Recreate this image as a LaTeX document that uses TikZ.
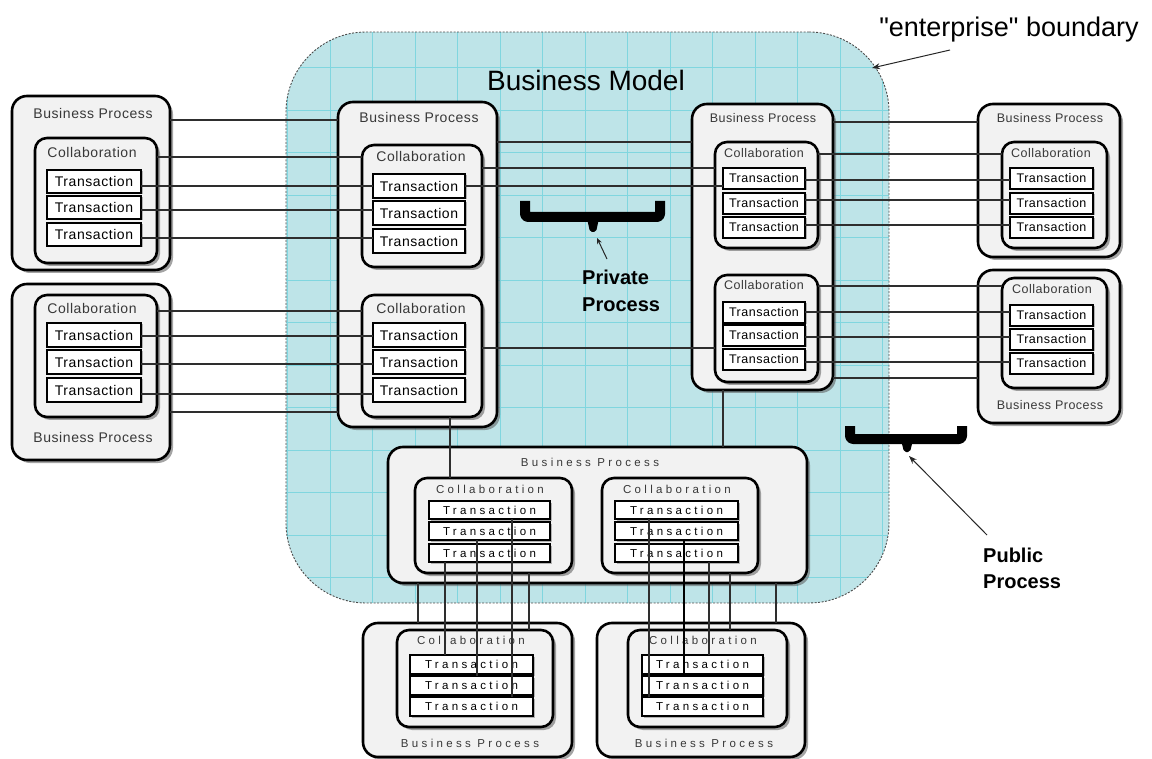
\documentclass[tikz,border=0pt]{standalone}
\usepackage{fontspec}
\setmainfont{Liberation Sans}
\newfontfamily\boxfont[LetterSpace=4]{Liberation Sans}
\newfontfamily\trackfont[LetterSpace=29]{Liberation Sans}
\newfontfamily\entfont[Ligatures=TeXOff]{Liberation Sans}
\usetikzlibrary{shadows,arrows.meta}
\definecolor{modelfill}{RGB}{190,228,232}
\definecolor{gridcyan}{RGB}{128,214,223}
\definecolor{boxfill}{RGB}{242,242,242}
\newcommand{\txtA}{\boxfont\fontsize{14}{16}\selectfont}
\newcommand{\txtB}{\boxfont\fontsize{12.5}{14}\selectfont}
\newcommand{\txtC}{\trackfont\fontsize{11.5}{13}\selectfont}

\begin{document}
\begin{tikzpicture}[x=1pt,y=-1pt,
  framebox/.style={draw=black, line width=2.6pt, fill=boxfill, inner sep=0pt, outer sep=0pt,
    anchor=north west, drop shadow={shadow xshift=3pt, shadow yshift=-3pt, fill=black!65, opacity=0.55}},
  bpbox/.style={framebox, rounded corners=15pt},
  colbox/.style={framebox, rounded corners=12pt},
  trbox/.style={draw=black, line width=1.1pt, fill=white, inner sep=0pt, outer sep=0pt,
    anchor=north west, drop shadow={shadow xshift=1.5pt, shadow yshift=-1.5pt, fill=black!55, opacity=0.5}},
  lbl/.style={inner sep=0pt, text=black!78},
  wire/.style={draw=black!82, line width=1.1pt},
  bracepath/.style={line width=10pt, rounded corners=3pt, line join=round},
  pointer/.style={draw=black!85, line width=1pt, -{Stealth[length=8pt,width=6pt]}},
  heading/.style={inner sep=0pt, anchor=base, font=\fontsize{28}{32}\selectfont},
  note/.style={inner sep=0pt, anchor=base west, font=\bfseries\fontsize{20}{24}\selectfont}
]
\useasboundingbox (0,0) rectangle (1152,759);

% ---------- business model region with grid ----------
\begin{scope}
  \clip[rounded corners=80pt] (286,32) rectangle (889,603);
  \fill[modelfill] (286,32) rectangle (889,603);
  \foreach \k in {0,...,14} \draw[gridcyan, line width=0.8pt] (287.5+42.5*\k,32) -- (287.5+42.5*\k,603);
  \foreach \k in {0,...,13} \draw[gridcyan, line width=0.8pt] (286,67.5+42.5*\k) -- (889,67.5+42.5*\k);
\end{scope}
\node[draw=black!70, dash pattern=on 2pt off 1.5pt, line width=0.9pt, rounded corners=80pt,
  minimum width=603pt, minimum height=571pt, anchor=north west, inner sep=0pt, outer sep=0pt] (model) at (286,32) {};

\node[heading] (title) at (586,91) {Business Model};
\node[heading, font=\entfont\fontsize{27}{31}\selectfont] (ent) at (1009,37) {"enterprise" boundary};
\coordinate (entTail) at (950,50);
\coordinate (entTip) at (872,68);
\draw[pointer] (entTail) -- (entTip);

% ---------- left column ----------
\node[bpbox, minimum width=158pt, minimum height=174pt] (LBP1) at (12,96) {};
\node[lbl, font=\txtA] (LBP1t) at (93,113) {Business Process};
\node[colbox, minimum width=122pt, minimum height=125pt] (LC1) at (35,138) {};
\node[lbl, font=\txtA] (LC1t) at (92,152) {Collaboration};
\foreach \n/\y in {a/170,b/196,c/223}
  \node[trbox, minimum width=94pt, minimum height=23pt, font=\txtA] (LT1\n) at (47,\y) {Transaction};

\node[bpbox, minimum width=158pt, minimum height=176pt] (LBP2) at (12,284) {};
\node[lbl, font=\txtA] (LBP2t) at (93,437) {Business Process};
\node[colbox, minimum width=122pt, minimum height=122pt] (LC2) at (35,295) {};
\node[lbl, font=\txtA] (LC2t) at (92,308) {Collaboration};
\foreach \n/\y in {a/323,b/350,c/378}
  \node[trbox, minimum width=94pt, minimum height=24pt, font=\txtA] (LT2\n) at (47,\y) {Transaction};

% ---------- centre process ----------
\node[bpbox, minimum width=159pt, minimum height=325pt] (CBP) at (338,102) {};
\node[lbl, font=\txtA] (CBPt) at (419,117) {Business Process};
\node[colbox, minimum width=120pt, minimum height=122pt] (CC1) at (362,145) {};
\node[lbl, font=\txtA] (CC1t) at (421,156) {Collaboration};
\foreach \n/\y in {a/174,b/201,c/229}
  \node[trbox, minimum width=92pt, minimum height=24pt, font=\txtA] (CT1\n) at (373,\y) {Transaction};
\node[colbox, minimum width=120pt, minimum height=122pt] (CC2) at (362,295) {};
\node[lbl, font=\txtA] (CC2t) at (421,308) {Collaboration};
\foreach \n/\y in {a/323,b/350,c/378}
  \node[trbox, minimum width=92pt, minimum height=24pt, font=\txtA] (CT2\n) at (373,\y) {Transaction};

% ---------- right-centre process ----------
\node[bpbox, minimum width=141pt, minimum height=286pt] (RCBP) at (692,104) {};
\node[lbl, font=\txtB] (RCBPt) at (763,118) {Business Process};
\node[colbox, minimum width=103pt, minimum height=106pt] (RCC1) at (715,142) {};
\node[lbl, font=\txtB] (RCC1t) at (764,153) {Collaboration};
\foreach \n/\y in {a/168,b/193,c/217}
  \node[trbox, minimum width=82pt, minimum height=21pt, font=\txtB] (RCT1\n) at (723,\y) {Transaction};
\node[colbox, minimum width=103pt, minimum height=107pt] (RCC2) at (715,275) {};
\node[lbl, font=\txtB] (RCC2t) at (764,285) {Collaboration};
\foreach \n/\y in {a/302,b/325,c/349}
  \node[trbox, minimum width=82pt, minimum height=21pt, font=\txtB] (RCT2\n) at (723,\y) {Transaction};

% ---------- right column ----------
\node[bpbox, minimum width=142pt, minimum height=153pt] (RBP1) at (978,104) {};
\node[lbl, font=\txtB] (RBP1t) at (1050,118) {Business Process};
\node[colbox, minimum width=105pt, minimum height=106pt] (RC1) at (1002,142) {};
\node[lbl, font=\txtB] (RC1t) at (1051,153) {Collaboration};
\foreach \n/\y in {a/168,b/193,c/217}
  \node[trbox, minimum width=83pt, minimum height=21pt, font=\txtB] (RT1\n) at (1010,\y) {Transaction};

\node[bpbox, minimum width=142pt, minimum height=153pt] (RBP2) at (978,270) {};
\node[lbl, font=\txtB] (RBP2t) at (1050,405) {Business Process};
\node[colbox, minimum width=105pt, minimum height=110pt] (RC2) at (1002,278) {};
\node[lbl, font=\txtB] (RC2t) at (1052,289) {Collaboration};
\foreach \n/\y in {a/305,b/329,c/353}
  \node[trbox, minimum width=83pt, minimum height=21pt, font=\txtB] (RT2\n) at (1010,\y) {Transaction};

% ---------- bottom-centre process ----------
\node[bpbox, minimum width=419pt, minimum height=136pt] (BBP) at (388,447) {};
\node[lbl, font=\txtC] (BBPt) at (590,462) {Business Process};
\node[colbox, minimum width=157pt, minimum height=95pt] (BC1) at (415,478) {};
\node[lbl, font=\txtC] (BC1t) at (490,489) {Collaboration};
\foreach \n/\y in {a/501,b/522,c/544}
  \node[trbox, minimum width=121pt, minimum height=18pt, font=\txtC] (BT1\n) at (429,\y) {Transaction};
\node[colbox, minimum width=156pt, minimum height=95pt] (BC2) at (602,478) {};
\node[lbl, font=\txtC] (BC2t) at (677,489) {Collaboration};
\foreach \n/\y in {a/501,b/522,c/544}
  \node[trbox, minimum width=123pt, minimum height=18pt, font=\txtC] (BT2\n) at (615,\y) {Transaction};

% ---------- bottom row ----------
\node[bpbox, minimum width=209pt, minimum height=134pt] (BLBP) at (363,623) {};
\node[lbl, font=\txtC] (BLBPt) at (470,743) {Business Process};
\node[colbox, minimum width=156pt, minimum height=97pt] (BLC) at (397,630) {};
\node[lbl, font=\txtC] (BLCt) at (471,640) {Collaboration};
\foreach \n/\y in {a/655,b/676,c/697}
  \node[trbox, minimum width=123pt, minimum height=19pt, font=\txtC] (BLT\n) at (410,\y) {Transaction};

\node[bpbox, minimum width=208pt, minimum height=134pt] (BRBP) at (597,623) {};
\node[lbl, font=\txtC] (BRBPt) at (704,743) {Business Process};
\node[colbox, minimum width=159pt, minimum height=97pt] (BRC) at (628,630) {};
\node[lbl, font=\txtC] (BRCt) at (703,640) {Collaboration};
\foreach \n/\y in {a/655,b/676,c/697}
  \node[trbox, minimum width=121pt, minimum height=19pt, font=\txtC] (BRT\n) at (642,\y) {Transaction};

% ---------- connectors: left to centre ----------
\draw[wire] (LBP1.east |- 0,120) -- (CBP.west |- 0,120);
\draw[wire] (LC1.east |- 0,157) -- (CC1.west |- 0,157);
\foreach \n/\y in {a/186,b/210,c/238}
  \draw[wire] (LT1\n.east |- 0,\y) -- (CT1\n.west |- 0,\y);
\draw[wire] (LC2.east |- 0,311) -- (CC2.west |- 0,311);
\foreach \n/\y in {a/336,b/364,c/394}
  \draw[wire] (LT2\n.east |- 0,\y) -- (CT2\n.west |- 0,\y);
\draw[wire] (LBP2.east |- 0,412) -- (CBP.west |- 0,412);

% ---------- connectors: centre to right-centre ----------
\draw[wire] (CBP.east |- 0,142) -- (RCBP.west |- 0,142);
\draw[wire] (CC1.east |- 0,168) -- (RCC1.west |- 0,168);
\draw[wire] (CT1a.east |- 0,186) -- (RCT1a.west |- 0,186);
\draw[wire] (CC2.east |- 0,348) -- (RCC2.west |- 0,348);

% ---------- connectors: right-centre to right ----------
\draw[wire] (RCBP.east |- 0,122) -- (RBP1.west |- 0,122);
\draw[wire] (RCC1.east |- 0,154) -- (RC1.west |- 0,154);
\foreach \n/\y in {a/180,b/200,c/225}
  \draw[wire] (RCT1\n.east |- 0,\y) -- (RT1\n.west |- 0,\y);
\draw[wire] (RCC2.east |- 0,286) -- (RC2.west |- 0,286);
\foreach \n/\y in {a/312,b/337,c/362}
  \draw[wire] (RCT2\n.east |- 0,\y) -- (RT2\n.west |- 0,\y);
\draw[wire] (RCBP.east |- 0,378) -- (RBP2.west |- 0,378);

% ---------- vertical connectors ----------
\draw[wire] (CC2.south -| 450,0) -- (BC1.north -| 450,0);
\draw[wire] (RCBP.south -| 723,0) -- (BBP.north -| 723,0);
\draw[wire] (BBP.south -| 418,0) -- (BLBP.north -| 418,0);
\draw[wire] (BT1c.south -| 445,0) -- (BLTa.north -| 445,0);
\draw[wire] (BT1b.south -| 477,0) -- (BLTb.north -| 477,0);
\draw[wire] (BT1a.south -| 512,0) -- (BLTc.north -| 512,0);
\draw[wire] (BC1.south -| 529,0) -- (BLC.north -| 529,0);
\draw[wire] (BT2a.south -| 649,0) -- (BRTc.north -| 649,0);
\draw[wire, line width=2.4pt, draw=black] (BT2b.south -| 684,0) -- (BRTb.north -| 684,0);
\draw[wire] (BT2c.south -| 709,0) -- (BRTa.north -| 709,0);
\draw[wire] (BC2.south -| 730,0) -- (BRC.north -| 730,0);
\draw[wire] (BBP.south -| 776,0) -- (BRBP.north -| 776,0);

% ---------- private / public process braces ----------
\draw[bracepath] (525,201) -- (525,217) -- (660,217) -- (660,201);
\fill[rounded corners=2pt] (586,214) -- (600,214) -- (596,232) -- (590,232) -- cycle;
\node[note] (privA) at (582,285) {Private};
\node[note] (privB) at (582,312) {Process};
\coordinate (privTail) at (607,259);
\coordinate (privTip) at (597,238);
\draw[pointer, -{Stealth[length=6pt,width=5pt]}] (privTail) -- (privTip);

\draw[bracepath] (850,426) -- (850,439) -- (962,439) -- (962,426);
\fill[rounded corners=2pt] (900,436) -- (914,436) -- (910,452) -- (904,452) -- cycle;
\node[note] (pubA) at (983,562) {Public};
\node[note] (pubB) at (983,588) {Process};
\coordinate (pubTail) at (987,535);
\coordinate (pubTip) at (909,456);
\draw[pointer] (pubTail) -- (pubTip);
\end{tikzpicture}
\end{document}
